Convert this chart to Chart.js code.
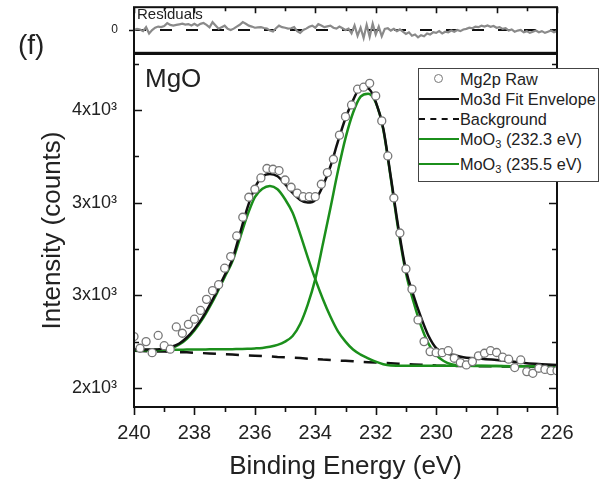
<!DOCTYPE html>
<html>
<head>
<meta charset="utf-8">
<script src="https://cdn.jsdelivr.net/npm/chart.js@4.4.1/dist/chart.umd.min.js"></script>
<style>
    html, body { margin: 0; padding: 0; background: #fff; }
    body { width: 610px; height: 489px; position: relative; overflow: hidden;
           font-family: 'Liberation Sans', Arial, sans-serif; color: #222; }
    canvas { position: absolute; left: 0; top: 0; }
    .txt { position: absolute; white-space: nowrap; }
    #legend { position: absolute; left: 418px; top: 68px; width: 179px; height: 112px;
              border: 1px solid #444; background: #fff; font-size: 16.3px; }
    #legend .row { position: absolute; left: 0; height: 20px; line-height: 20px; width: 179px; }
    #legend .sym { position: absolute; left: 0; top: 9px; width: 40px; height: 0; }
    #legend .lbl { position: absolute; left: 41px; top: 0; white-space: nowrap; }
    #legend sub { font-size: 11px; vertical-align: -3px; line-height: 0; }
</style>
</head>
<body>
<canvas id="mainChart" width="610" height="489"></canvas>
<canvas id="residChart" width="610" height="60"></canvas>

<div class="txt" style="left:18px; top:31px; font-size:28px; line-height:28px;">(f)</div>
<div class="txt" style="left:145px; top:65px; font-size:26px; line-height:26px;">MgO</div>
<div class="txt" style="left:137px; top:6px; font-size:15px; line-height:15px;">Residuals</div>

<div id="legend">
    <div class="row" style="top:0px;">
        <span class="sym" style="left:15px; top:5px; width:7px; height:7px; border:1.3px solid #777; border-radius:50%;"></span>
        <span class="lbl">Mg2p Raw</span>
    </div>
    <div class="row" style="top:20px;">
        <span class="sym" style="border-top:2.5px solid #111;"></span>
        <span class="lbl">Mo3d Fit Envelope</span>
    </div>
    <div class="row" style="top:40px;">
        <span class="sym" style="border-top:2.5px dashed #111;"></span>
        <span class="lbl">Background</span>
    </div>
    <div class="row" style="top:60px;">
        <span class="sym" style="border-top:2.5px solid #1b8f1b;"></span>
        <span class="lbl">MoO<sub>3</sub> (232.3 eV)</span>
    </div>
    <div class="row" style="top:85px;">
        <span class="sym" style="border-top:2.5px solid #1b8f1b;"></span>
        <span class="lbl">MoO<sub>3</sub> (235.5 eV)</span>
    </div>
</div>

<script>
// ---- data ----
// raw spectrum, 240.0 -> 226.0 eV in 0.2 eV steps
const rawEnergy = Array.from({ length: 71 }, (_, i) => +(240 - i * 0.2).toFixed(1));
const rawCounts = [
    2277, 2214, 2250, 2190, 2283, 2228, 2209, 2329, 2295, 2343,
    2371, 2418, 2478, 2525, 2557, 2646, 2709, 2820, 2921, 3029,
    3072, 3133, 3184, 3180, 3173, 3122, 3083, 3051, 3032, 3032,
    3032, 3099, 3162, 3234, 3364, 3464, 3527, 3612, 3623, 3644,
    3576, 3441, 3252, 3025, 2836, 2642, 2533, 2367, 2250, 2196,
    2190, 2190, 2201, 2160, 2137, 2124, 2142, 2173, 2187, 2201,
    2191, 2166, 2155, 2110, 2151, 2088, 2079, 2106, 2100, 2093,
    2093
];

// fitted curves
const fitEnergy = [
    240, 239.5, 239, 238.75, 238.5, 238.25, 238, 237.75, 237.5, 237.25,
    237, 236.75, 236.5, 236.25, 236, 235.75, 235.5, 235.25, 235, 234.75,
    234.5, 234.25, 234, 233.75, 233.5, 233.25, 233, 232.75, 232.5, 232.25,
    232, 231.75, 231.5, 231.25, 231, 230.75, 230.5, 230.25, 230, 229.75,
    229.5, 229, 228.5, 228, 227.5, 227, 226.5, 226
];
const envelopeCounts = [
    2209, 2207, 2212, 2222, 2240, 2272, 2318, 2375, 2445, 2523,
    2608, 2690, 2830, 2970, 3080, 3140, 3155, 3142, 3100, 3052,
    3015, 3000, 3015, 3090, 3195, 3330, 3455, 3552, 3618, 3616,
    3545, 3400, 3138, 2865, 2637, 2500, 2381, 2280, 2215, 2192,
    2180, 2163, 2158, 2150, 2142, 2133, 2128, 2124
];
const backgroundCounts = [
    2200, 2198, 2196, 2195, 2193, 2192, 2190, 2188, 2186, 2184,
    2182, 2180, 2178, 2176, 2174, 2172, 2170, 2167, 2165, 2163,
    2161, 2158, 2156, 2153, 2151, 2148, 2146, 2144, 2141, 2139,
    2137, 2135, 2133, 2131, 2129, 2127, 2125, 2123, 2121, 2120,
    2119, 2118, 2117, 2116, 2115, 2114, 2113, 2112
];
const moo3_2323 = [
    2205, 2205, 2206, 2206, 2206, 2207, 2207, 2207, 2208, 2208,
    2208, 2209, 2210, 2211, 2213, 2216, 2222, 2232, 2250, 2280,
    2345, 2450, 2587, 2775, 2970, 3170, 3348, 3485, 3572, 3588,
    3540, 3395, 3130, 2850, 2620, 2465, 2335, 2238, 2178, 2145,
    2128, 2120, 2119, 2118, 2117, 2117, 2116, 2116
];
const moo3_2355 = [
    2205, 2203, 2206, 2215, 2234, 2265, 2310, 2367, 2436, 2513,
    2598, 2680, 2805, 2930, 3030, 3075, 3090, 3072, 3018, 2945,
    2830, 2705, 2587, 2480, 2385, 2305, 2250, 2207, 2180, 2160,
    2142, 2128, 2121, 2120, 2119, 2119, 2119, 2119, 2119, 2119,
    2119, 2119, 2118, 2118, 2117, 2117, 2116, 2116
];

// residuals, 240.0 -> 226.0 eV in 0.1 eV steps
const residEnergy = Array.from({ length: 141 }, (_, i) => +(240 - i * 0.1).toFixed(1));
const residCounts = [
    0, 10, 5, -10, 25, -30, 0, 20, 30, 25, 35, 60, 45, 38, 45, 50, 55, 48, 52, 40, 55,
    38, 54, 61, 45, 23, 69, 40, 12, 25, 38, 10, 0, 12, 30, 46, 69, 55, 38, 30, 20,
    23, 25, 18, 12, -5, -13, 15, 38, 25, 20, 12, 15, 25, -10, -26, 0, 12, 28, 38, 20,
    51, 40, 25, 32, 38, 20, 12, 30, 15, 0, 12, -30, 40, -50, 20, -70, 45, -60, 55, -40,
    30, -55, 10, 15, -5, 10, -10, 5, -15, -35, -20, -50, -40, -65, -45, -55, -30, -40, -20, -25,
    -10, -30, -15, -20, -5, -15, 0, -10, 5, 10, 20, 15, 30, 25, 38, 30, 40, 28, 35, 20,
    25, 10, 15, -5, 5, -15, -5, 0, -20, -10, -25, -15, -5, -20, -10, -25, -15, -5, -20, -10
];

// axes
const xTickValues = [240, 238, 236, 234, 232, 230, 228, 226];
const xMinorValues = [239, 237, 235, 233, 231, 229, 227];
const yTickValues = [2000, 2500, 3000, 3500];
const yTickLabels = ['2x10³', '3x10³', '3x10³', '4x10³'];
const yMinorValues = [2250, 2750, 3250, 3750];

const GREEN = '#1b8f1b';
const FONT = "'Liberation Sans', Arial, sans-serif";

Chart.defaults.font.family = FONT;
Chart.defaults.color = '#222';

const pts = (xs, ys) => xs.map((x, i) => ({ x: x, y: ys[i] }));

// frame and tick marks drawn by hand (inward ticks on the y axes)
const mainFrame = {
    id: 'mainFrame',
    afterDraw(chart) {
        const { ctx, chartArea: a, scales: { x, y } } = chart;
        ctx.save();
        ctx.strokeStyle = '#111';
        ctx.lineWidth = 1.6;
        ctx.beginPath();
        yTickValues.concat(yMinorValues).forEach(v => {
            const py = Math.round(y.getPixelForValue(v)) + 0.5;
            const len = yTickValues.includes(v) ? 8 : 5;
            ctx.moveTo(a.left, py); ctx.lineTo(a.left + len, py);
            ctx.moveTo(a.right, py); ctx.lineTo(a.right - len, py);
        });
        xTickValues.concat(xMinorValues).forEach(v => {
            const px = Math.round(x.getPixelForValue(v)) + 0.5;
            const len = xTickValues.includes(v) ? 8 : 5;
            ctx.moveTo(px, a.bottom); ctx.lineTo(px, a.bottom + len);
        });
        ctx.stroke();
        ctx.lineWidth = 2;
        ctx.strokeRect(a.left, a.top, a.right - a.left, a.bottom - a.top);
        ctx.restore();
    }
};

const residFrame = {
    id: 'residFrame',
    afterDraw(chart) {
        const { ctx, chartArea: a, scales: { x, y } } = chart;
        ctx.save();
        ctx.strokeStyle = '#111';
        ctx.lineWidth = 1.6;
        ctx.beginPath();
        xTickValues.concat(xMinorValues).forEach(v => {
            const px = Math.round(x.getPixelForValue(v)) + 0.5;
            const len = xTickValues.includes(v) ? 6 : 4;
            ctx.moveTo(px, a.top); ctx.lineTo(px, a.top + len);
        });
        const py0 = Math.round(y.getPixelForValue(0)) + 0.5;
        ctx.moveTo(a.left, py0); ctx.lineTo(a.left - 5, py0);
        ctx.stroke();
        ctx.lineWidth = 2;
        ctx.strokeRect(a.left, a.top, a.right - a.left, a.bottom - a.top);
        ctx.restore();
    }
};

new Chart(document.getElementById('mainChart'), {
    type: 'scatter',
    data: {
        datasets: [
            {
                label: 'Mg2p Raw',
                data: pts(rawEnergy, rawCounts),
                showLine: false,
                pointRadius: 4,
                pointBorderWidth: 1.3,
                pointBorderColor: '#777',
                pointBackgroundColor: '#fff'
            },
            {
                label: 'Mo3d Fit Envelope',
                data: pts(fitEnergy, envelopeCounts),
                showLine: true,
                borderColor: '#111',
                borderWidth: 2.5,
                pointRadius: 0,
                cubicInterpolationMode: 'monotone'
            },
            {
                label: 'MoO3 (232.3 eV)',
                data: pts(fitEnergy, moo3_2323),
                showLine: true,
                borderColor: GREEN,
                borderWidth: 2.5,
                pointRadius: 0,
                cubicInterpolationMode: 'monotone'
            },
            {
                label: 'MoO3 (235.5 eV)',
                data: pts(fitEnergy, moo3_2355),
                showLine: true,
                borderColor: GREEN,
                borderWidth: 2.5,
                pointRadius: 0,
                cubicInterpolationMode: 'monotone'
            },
            {
                label: 'Background',
                data: pts(fitEnergy, backgroundCounts),
                showLine: true,
                borderColor: '#111',
                borderWidth: 2.5,
                borderDash: [13, 10],
                pointRadius: 0
            }
        ]
    },
    options: {
        responsive: false,
        animation: false,
        events: [],
        layout: { padding: { left: 0, right: 53, top: 54, bottom: 0 } },
        plugins: { legend: { display: false }, tooltip: { enabled: false } },
        scales: {
            x: {
                type: 'linear',
                reverse: true,
                min: 226,
                max: 240,
                afterBuildTicks: s => { s.ticks = xTickValues.map(v => ({ value: v })); },
                afterFit: s => { s.height = 82; },
                grid: { display: false, drawTicks: false },
                border: { display: false },
                ticks: {
                    autoSkip: false,
                    maxRotation: 0,
                    padding: 14,
                    color: '#222',
                    font: { size: 20 },
                    callback: v => String(v)
                },
                title: {
                    display: true,
                    text: 'Binding Energy (eV)',
                    color: '#222',
                    font: { size: 26 },
                    padding: { top: 0, bottom: 7 }
                }
            },
            y: {
                min: 1897,
                max: 3802,
                afterBuildTicks: s => { s.ticks = yTickValues.map(v => ({ value: v })); },
                afterFit: s => { s.width = 134; },
                grid: { display: false, drawTicks: false },
                border: { display: false },
                ticks: {
                    padding: 17,
                    color: '#222',
                    font: { size: 18 },
                    callback: v => yTickLabels[yTickValues.indexOf(v)]
                },
                title: {
                    display: true,
                    text: 'Intensity (counts)',
                    color: '#222',
                    font: { size: 26 },
                    padding: { top: 37, bottom: 0 }
                }
            }
        }
    },
    plugins: [mainFrame]
});

new Chart(document.getElementById('residChart'), {
    type: 'scatter',
    data: {
        datasets: [
            {
                label: 'Residuals',
                data: pts(residEnergy, residCounts),
                showLine: true,
                borderColor: '#8a8a8a',
                borderWidth: 2.2,
                pointRadius: 0
            },
            {
                label: 'zero',
                data: [{ x: 240, y: 0 }, { x: 226, y: 0 }],
                showLine: true,
                borderColor: '#111',
                borderWidth: 2,
                borderDash: [12, 14],
                pointRadius: 0
            }
        ]
    },
    options: {
        responsive: false,
        animation: false,
        events: [],
        layout: { autoPadding: false, padding: { left: 0, right: 53, top: 1, bottom: 6 } },
        plugins: { legend: { display: false }, tooltip: { enabled: false } },
        scales: {
            x: {
                type: 'linear',
                reverse: true,
                min: 226,
                max: 240,
                display: false
            },
            y: {
                min: -200,
                max: 200,
                afterBuildTicks: s => { s.ticks = [{ value: 0 }]; },
                afterFit: s => { s.width = 134; },
                // label offset comes from the (hidden) tick length, not tick padding,
                // so the chart area is not shrunk vertically
                grid: { display: false, drawTicks: true, tickLength: 16 },
                border: { display: false },
                ticks: { padding: 0, color: '#222', font: { size: 12 } }
            }
        }
    },
    plugins: [residFrame]
});
</script>
</body>
</html>
